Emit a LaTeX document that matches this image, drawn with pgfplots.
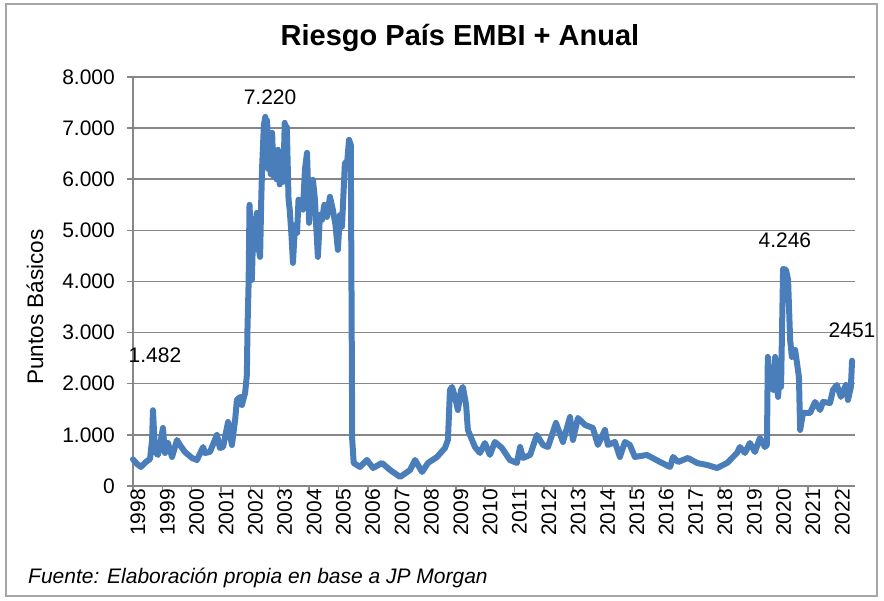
\documentclass[border=0pt]{standalone}
\usepackage{fontspec}
\setmainfont{Liberation Sans}
\usepackage{pgfplots}
\pgfplotsset{compat=1.18}

\definecolor{serie}{HTML}{4A7EBB}
\definecolor{grilla}{HTML}{878787}
\definecolor{marco}{HTML}{A6A6A6}

% EMBI+ Argentina, puntos basicos
\pgfplotstableread{
anio valor
1998.00 520
1998.14 430
1998.27 372
1998.44 470
1998.58 528
1998.65 900
1998.68 1482
1998.75 665
1998.85 607
1998.95 900
1999.02 1135
1999.09 646
1999.19 841
1999.33 568
1999.50 900
1999.60 802
1999.77 665
2000.01 548
2000.18 509
2000.39 763
2000.45 646
2000.62 665
2000.86 998
2000.96 744
2001.07 763
2001.24 1252
2001.37 802
2001.48 1292
2001.54 1683
2001.65 1742
2001.71 1585
2001.82 1820
2001.88 2172
2001.90 3053
2001.94 3992
2001.97 5500
2002.02 4814
2002.05 4031
2002.09 4900
2002.12 4618
2002.17 5100
2002.22 5343
2002.27 4700
2002.33 4481
2002.37 5600
2002.40 6243
2002.46 7065
2002.51 7220
2002.54 6400
2002.57 7150
2002.61 6200
2002.65 6900
2002.69 6100
2002.74 6908
2002.79 6050
2002.84 6500
2002.89 6000
2002.94 6576
2003.00 5900
2003.07 6200
2003.12 5950
2003.17 7104
2003.20 6300
2003.24 7026
2003.30 5600
2003.34 5401
2003.40 4900
2003.45 4364
2003.52 5100
2003.59 4951
2003.64 5600
2003.69 5460
2003.79 5401
2003.86 6200
2003.93 6517
2004.00 5147
2004.06 5700
2004.13 5988
2004.20 5597
2004.25 5000
2004.30 4481
2004.37 5300
2004.44 5206
2004.52 5500
2004.61 5264
2004.71 5656
2004.81 5401
2004.90 5100
2004.98 4618
2005.05 5300
2005.12 5069
2005.22 6321
2005.29 6282
2005.36 6771
2005.42 6673
2005.47 900
2005.52 450
2005.73 372
2005.97 509
2006.18 352
2006.48 450
2006.76 313
2007.10 176
2007.44 313
2007.61 509
2007.85 274
2008.05 450
2008.36 568
2008.63 744
2008.73 900
2008.80 1879
2008.87 1937
2008.97 1742
2009.07 1487
2009.18 1879
2009.24 1937
2009.35 1585
2009.41 1096
2009.65 763
2009.82 646
2009.99 841
2010.16 607
2010.33 861
2010.57 744
2010.84 509
2011.08 450
2011.19 763
2011.29 548
2011.53 607
2011.76 998
2011.97 802
2012.14 763
2012.41 1233
2012.65 861
2012.89 1350
2012.99 900
2013.16 1331
2013.40 1194
2013.67 1135
2013.84 802
2014.08 1096
2014.18 802
2014.42 861
2014.59 568
2014.76 861
2014.93 802
2015.10 568
2015.51 607
2015.96 470
2016.30 372
2016.40 568
2016.57 470
2016.91 548
2017.22 450
2017.56 411
2017.90 352
2018.24 450
2018.58 646
2018.68 763
2018.85 646
2019.02 841
2019.19 665
2019.36 939
2019.53 763
2019.60 802
2019.63 2525
2019.70 1900
2019.77 2300
2019.82 1879
2019.88 2525
2019.93 2000
2019.98 1742
2020.03 2200
2020.08 1937
2020.15 4246
2020.25 4227
2020.32 4031
2020.39 2857
2020.45 2525
2020.56 2662
2020.69 2133
2020.73 1096
2020.83 1429
2021.07 1429
2021.24 1644
2021.41 1487
2021.51 1644
2021.75 1624
2021.85 1879
2021.98 1977
2022.12 1742
2022.29 1977
2022.36 1683
2022.46 1937
2022.50 2451
}\embi

\begin{document}
\begin{tikzpicture}
\path[use as bounding box] (-133pt,-115pt) rectangle (751pt,486pt);
\draw[marco, line width=1.2pt] (-127pt,-110pt) rectangle (744pt,482pt);
\begin{axis}[
    at={(0pt,0pt)}, anchor=south west,
    width=722pt, height=409pt, scale only axis,
    xmin=1998, xmax=2022.6,
    ymin=0, ymax=8000,
    xtick={1998,1999,...,2022},
    ytick={0,1000,...,8000},
    axis lines=left,
    axis line style={-, grilla, line width=1.5pt},
    ymajorgrids,
    grid style={grilla, line width=1.5pt},
    tick align=outside,
    major tick length=6pt,
    tick style={grilla, line width=1.5pt},
    /pgf/number format/assume math mode=true,
    x tick label style={/pgf/number format/1000 sep={}, rotate=90, anchor=east,
        inner sep=0pt, yshift=-5pt, xshift=3pt, font=\fontsize{21}{21}\selectfont},
    y tick label style={/pgf/number format/1000 sep={.}, anchor=east,
        inner sep=0pt, xshift=-12pt, font=\fontsize{21}{21}\selectfont},
    clip=false,
]
\addplot[serie, line width=6pt, line join=round, line cap=round] table[x=anio, y=valor] {\embi};
\node[font=\fontsize{21}{21}\selectfont] at (axis cs:1998.75,2564) {1.482};
\node[font=\fontsize{21}{21}\selectfont] at (axis cs:2002.67,7613) {7.220};
\node[font=\fontsize{21}{21}\selectfont] at (axis cs:2020.21,4814) {4.246};
\node[font=\fontsize{21}{21}\selectfont] at (axis cs:2022.5,3053) {2451};
\end{axis}
\node[font=\fontsize{29}{29}\selectfont\bfseries] at (327pt,448pt) {Riesgo País EMBI + Anual};
\node[rotate=90, font=\fontsize{22.5}{22.5}\selectfont] at (-98pt,179pt) {Puntos Básicos};
\node[anchor=base west, inner sep=0pt, font=\fontsize{21}{21}\selectfont\itshape] at (-105pt,-98pt) {Fuente: Elaboración propia en base a JP Morgan};
\end{tikzpicture}
\end{document}
